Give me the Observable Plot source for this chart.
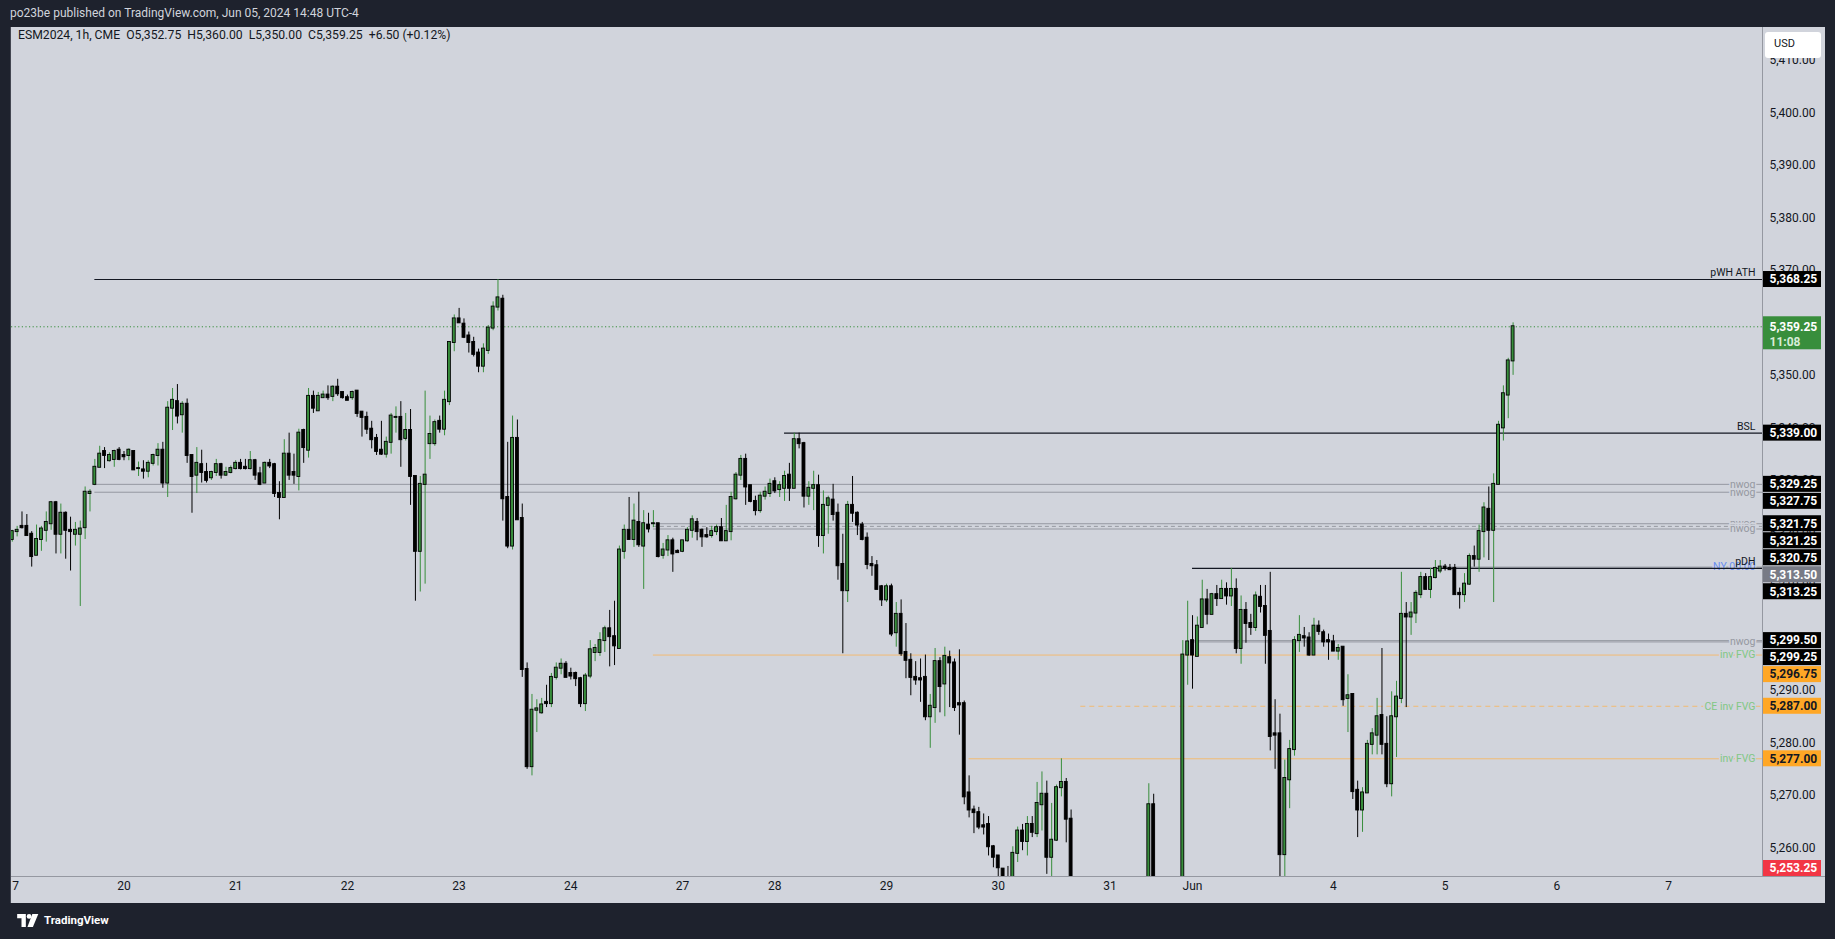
<!DOCTYPE html>
<html>
<head>
<meta charset="utf-8">
<script src="https://cdn.jsdelivr.net/npm/d3@7"></script>
<script src="https://cdn.jsdelivr.net/npm/@observablehq/plot@0.6"></script>
<style>
  html, body { margin: 0; padding: 0; background: #1e222d; }
  #page { position: relative; width: 1835px; height: 939px; background: #1e222d; overflow: hidden;
          font-family: Roboto, "Liberation Sans", sans-serif; }
  #title { position: absolute; left: 10px; top: 6px; color: #d1d4dc; font-size: 12px; white-space: pre; }
  #chart { position: absolute; left: 11px; top: 27px; width: 1814px; height: 876px; background: #d1d4dc; overflow: hidden; }
  #legend { position: absolute; left: 18px; top: 28px; color: #131722; font-size: 12.2px; line-height: 14px; white-space: pre; }
  #usd { position: absolute; left: 1765px; top: 32px; width: 56px; height: 26px; background: #fff; border-radius: 3px;
         color: #131722; font-size: 11px; line-height: 24px; box-sizing: border-box; padding-left: 9px; }
  .vline { position: absolute; left: 1762px; top: 27px; width: 1px; height: 849px; background: #9598a1; }
  .hline { position: absolute; left: 11px; top: 876px; width: 1814px; height: 1px; background: #9598a1; }
  .edge { position: absolute; left: 10px; top: 27px; width: 1px; height: 876px; background: #434651; }
  #brand { position: absolute; left: 17px; top: 912px; height: 16px; display: flex; align-items: center; gap: 5px;
           color: #ffffff; font-weight: bold; font-size: 11.5px; }
</style>
</head>
<body>
<div id="page">
  <div id="title"></div>
  <div id="chart"></div>
  <div class="edge"></div>
  <div class="vline"></div>
  <div class="hline"></div>
  <div id="legend"></div>
  <div id="usd">USD</div>
  <div id="brand">
    <svg width="22" height="13" viewBox="0 0 20 12">
      <path d="M0 0 H8 V12 H4 V4 H0 Z" fill="#fff"/>
      <circle cx="11" cy="2.2" r="2.2" fill="#fff"/>
      <path d="M14 0 H19.5 L14.5 12 H9.5 Z" fill="#fff"/>
    </svg>
    <span>TradingView</span>
  </div>
</div>
<script>
// ---------------- data ----------------
const author = "po23be";
const publishedText = "Jun 05, 2024 14:48 UTC-4";
const symbol = "ESM2024", interval = "1h", exchange = "CME";
const countdown = "11:08";

// hourly bars; first bar = May 17 00:00 (bar index -23, May 20 00:00 = 0)
const firstBar = -23;
const barOpen = [
5318.75,5320.25,5321.25,5321.25,5319.75,5315.75,5318.75,5320.50,5321.75,5325.75,5319.75,5323.75,5320.50,5319.75,5319.75,5321.00,5327.50,
5329.25,5332.50,5335.50,5333.75,5334.00,5335.75,
5334.75,5334.75,5335.50,5332.25,5332.00,5331.75,5333.25,5334.75,5335.75,5329.50,5343.75,5345.00,5342.50,5344.50,5334.75,5331.00,5333.00,
5331.50,5330.50,5331.50,5333.00,5331.00,5331.50,
5332.25,5333.25,5332.50,5332.25,5333.75,5331.25,5329.50,5333.25,5333.00,5327.50,5326.75,5335.00,5331.50,5330.75,5339.50,5335.75,5346.00,
5343.25,5345.75,5346.25,5346.00,5347.75,5346.75,
5345.75,5345.75,5347.00,5343.00,5342.00,5339.75,5338.00,5335.75,5335.00,5337.25,5342.00,5342.00,5338.00,5339.50,5330.75,5316.50,5329.25,
5337.00,5337.00,5341.25,5339.75,5345.00,5356.25,
5360.75,5359.75,5357.50,5356.25,5354.25,5351.75,5354.75,5359.00,5363.00,5364.50,5326.75,5317.50,5338.00,5322.75,5294.00,5275.50,5286.25,
5285.75,5287.75,5287.50,5292.50,5294.25,5295.00,
5293.25,5293.25,5292.25,5287.50,5292.75,5297.25,5297.25,5299.50,5301.75,5300.25,5298.00,5316.50,5320.50,5318.75,5322.00,5317.50,5321.50,
5321.75,5321.75,5315.75,5316.75,5318.50,5316.50,
5316.50,5318.50,5320.50,5322.00,5320.50,5319.50,5319.50,5320.25,5321.00,5318.50,5320.25,5326.50,5331.00,5334.00,5329.00,5326.00,5324.25,
5327.00,5327.50,
5329.75,5328.25,5328.50,5331.00,5328.50,5337.75,5337.00,5327.00,5328.50,5329.00,5319.50,5325.25,5326.25,5323.75,5314.00,5309.00,5325.25,
5323.75,5321.50,5319.00,5314.00,5313.75,5309.75,
5307.25,5309.75,5301.00,5304.50,5297.25,5295.75,5292.50,5292.25,5292.50,5285.00,5286.75,5295.50,5291.25,5296.25,5295.25,5287.50,5287.50,
5270.50,5267.25,5266.75,5264.25,5264.50,5260.25,
5258.50,5256.00,5251.00,5249.50,5259.00,5263.25,5261.25,5264.50,5262.75,5268.25,5270.25,5258.25,5261.50,5271.50,5272.50,5265.50,5242.50,
5238.25,5241.00,5244.25,5242.00,5237.50,5240.75,
5245.25,5243.00,5238.00,5232.25,5234.50,5230.25,5222.75,5233.50,5246.00,5268.25,5243.25,5235.50,5219.25,5211.75,5218.50,5238.00,5296.75,
5299.50,5296.50,5302.00,5307.25,5304.50,5308.25,
5307.50,5309.25,5308.00,5309.25,5298.00,5305.25,5302.75,5302.00,5307.75,5306.00,5301.25,5281.75,5281.75,5258.75,5273.00,5278.75,5299.50,
5300.25,5300.00,5296.75,5302.25,5301.00,5299.50,
5299.25,5297.50,5298.25,5288.50,5289.25,5271.00,5267.25,5270.50,5279.75,5281.50,5285.25,5279.75,5272.25,5285.00,5288.50,5304.50,5304.00,
5304.75,5308.25,5311.50,5309.25,5311.50,5312.75,
5313.50,5313.25,5313.25,5308.50,5308.25,5310.25,5315.50,5315.00,5320.25,5324.50,5320.50,5329.25,5340.00,5346.25,5352.75
];
const barHigh = [
5320.50,5321.25,5324.00,5323.50,5320.25,5321.50,5321.25,5324.00,5326.00,5326.00,5325.50,5324.00,5323.00,5322.00,5322.25,5328.75,5328.25,
5334.00,5336.50,5336.25,5335.25,5335.75,5336.25,
5335.50,5336.00,5335.50,5333.50,5333.75,5333.75,5335.00,5337.00,5337.25,5345.00,5347.50,5348.25,5345.00,5345.50,5334.75,5336.25,5335.75,
5333.25,5331.75,5334.00,5333.25,5332.50,5332.75,
5333.75,5334.00,5334.00,5335.50,5334.00,5332.50,5333.50,5334.00,5333.25,5329.75,5337.75,5339.00,5335.00,5339.75,5339.75,5347.50,5347.00,
5346.75,5347.00,5348.00,5348.00,5349.25,5346.75,
5346.25,5347.00,5347.00,5343.00,5343.00,5341.25,5338.75,5341.25,5338.25,5342.75,5344.00,5345.00,5342.75,5343.50,5330.75,5330.75,5347.00,
5342.25,5341.50,5342.25,5347.00,5356.25,5361.50,
5362.75,5360.75,5358.25,5357.25,5355.00,5356.00,5359.50,5364.00,5368.25,5365.25,5337.25,5342.25,5341.50,5325.50,5295.25,5289.25,5288.25,
5288.50,5291.00,5293.25,5295.25,5296.00,5295.50,
5294.25,5293.50,5292.50,5293.25,5299.50,5298.75,5301.00,5302.25,5305.25,5307.00,5317.50,5321.50,5326.75,5325.50,5327.75,5324.25,5323.75,
5324.25,5321.75,5318.00,5319.50,5319.00,5316.75,
5318.50,5321.00,5323.25,5322.75,5320.75,5321.00,5321.25,5321.50,5322.75,5325.25,5327.75,5331.50,5334.75,5335.00,5329.00,5327.00,5327.75,
5328.75,5330.25,
5330.50,5329.75,5331.75,5333.25,5339.00,5339.00,5337.25,5329.75,5331.75,5331.00,5328.00,5327.00,5329.25,5325.50,5319.75,5326.00,5330.75,
5324.00,5322.00,5320.00,5315.50,5314.75,5310.00,
5310.25,5310.25,5306.75,5307.25,5302.75,5297.00,5295.50,5296.00,5296.75,5289.25,5298.00,5296.25,5298.25,5297.50,5296.00,5297.75,5288.00,
5273.75,5268.00,5267.75,5266.50,5266.00,5260.50,
5258.50,5256.00,5256.50,5260.25,5264.00,5264.50,5266.00,5266.00,5272.50,5274.50,5272.75,5268.50,5272.00,5277.00,5273.25,5267.25,5246.00,
5243.50,5245.75,5248.00,5244.50,5242.25,5246.50,
5249.75,5245.00,5240.50,5236.00,5238.75,5233.50,5236.00,5248.25,5272.25,5270.25,5249.50,5241.00,5226.50,5222.00,5240.75,5299.50,5307.00,
5304.25,5304.00,5311.00,5309.25,5308.50,5310.00,
5311.00,5310.50,5313.25,5311.25,5308.00,5306.75,5304.50,5308.75,5310.00,5310.00,5312.50,5288.25,5285.50,5276.75,5280.50,5300.25,5304.25,
5302.00,5301.00,5303.75,5303.25,5301.50,5300.75,
5300.50,5298.75,5298.25,5293.00,5289.25,5272.75,5271.50,5280.50,5282.75,5288.50,5298.00,5285.00,5289.75,5291.75,5312.50,5306.75,5306.75,
5309.00,5312.50,5312.25,5313.25,5314.75,5314.75,
5314.00,5314.00,5314.00,5309.50,5312.25,5316.00,5317.50,5321.50,5325.75,5328.75,5331.25,5341.25,5348.00,5353.25,5360.00
];
const barLow = [
5318.25,5319.25,5320.75,5319.50,5313.50,5315.75,5316.50,5318.25,5320.50,5316.00,5316.00,5315.00,5312.75,5317.50,5306.00,5318.75,5324.00,
5329.00,5332.50,5332.25,5333.50,5332.50,5333.75,
5333.75,5333.75,5332.00,5330.75,5330.25,5330.50,5332.75,5332.75,5328.50,5326.75,5339.50,5340.75,5339.00,5333.25,5323.75,5327.50,5329.50,
5329.50,5330.00,5330.75,5330.25,5330.75,5331.25,
5332.00,5332.00,5332.00,5332.00,5330.00,5329.00,5329.50,5332.25,5326.75,5322.50,5326.75,5330.00,5329.25,5328.00,5333.25,5334.25,5342.75,
5343.25,5345.75,5345.25,5345.00,5346.00,5345.50,
5345.25,5345.25,5342.00,5338.25,5338.75,5336.00,5334.75,5334.75,5334.25,5335.00,5339.00,5332.50,5337.50,5325.25,5307.00,5308.75,5310.25,
5334.00,5336.50,5339.00,5338.50,5344.25,5354.50,
5360.00,5357.00,5354.25,5353.50,5350.50,5350.50,5354.00,5358.50,5362.25,5322.25,5317.00,5316.75,5322.50,5292.50,5275.00,5273.75,5282.00,
5285.50,5286.75,5286.75,5292.00,5293.00,5292.50,
5292.00,5290.75,5286.75,5286.00,5292.25,5295.50,5296.50,5297.25,5294.50,5294.75,5298.00,5315.00,5318.75,5317.25,5317.25,5309.25,5320.00,
5321.00,5315.25,5315.00,5315.50,5312.50,5316.25,
5316.25,5318.25,5319.00,5318.50,5317.25,5319.00,5319.00,5319.50,5318.50,5318.50,5318.50,5326.25,5330.00,5325.25,5325.75,5323.25,5323.75,
5326.25,5326.75,
5327.50,5326.75,5326.00,5326.00,5328.50,5336.00,5324.75,5325.25,5324.25,5317.25,5316.00,5319.75,5322.25,5311.00,5297.00,5306.75,5322.00,
5319.50,5318.50,5313.00,5311.75,5309.25,5306.00,
5306.75,5300.25,5298.25,5296.50,5292.25,5289.00,5291.00,5287.75,5284.25,5279.00,5283.75,5285.75,5285.00,5286.75,5286.00,5281.50,5268.25,
5265.75,5262.75,5263.50,5262.50,5258.50,5256.25,
5254.50,5249.00,5248.00,5247.50,5257.25,5259.50,5258.50,5262.00,5262.00,5263.25,5255.00,5254.25,5261.25,5269.75,5261.00,5240.00,5236.00,
5234.00,5238.50,5240.25,5235.75,5233.00,5239.00,
5241.50,5236.25,5229.75,5226.50,5228.00,5218.00,5219.50,5231.00,5243.50,5240.00,5230.00,5213.00,5206.00,5195.25,5216.00,5236.25,5291.00,
5290.25,5296.50,5302.00,5302.50,5304.50,5306.00,
5307.50,5306.25,5306.00,5297.00,5295.00,5299.00,5300.50,5301.25,5304.75,5295.00,5278.50,5275.00,5252.00,5250.00,5267.50,5277.50,5297.25,
5298.25,5296.50,5296.75,5300.50,5298.25,5295.75,
5297.50,5295.75,5287.00,5282.00,5269.25,5262.00,5263.00,5270.50,5277.75,5277.75,5277.75,5271.50,5269.75,5277.25,5287.50,5286.75,5300.50,
5302.75,5307.50,5309.25,5307.50,5311.25,5312.25,
5312.75,5313.00,5308.25,5305.50,5306.75,5310.00,5313.50,5312.50,5315.25,5314.75,5306.75,5329.25,5337.50,5341.75,5350.00
];
const barClose = [
5320.25,5320.50,5321.00,5319.50,5315.50,5318.75,5320.75,5322.00,5325.75,5319.75,5323.75,5320.50,5320.25,5320.50,5320.75,5327.75,5327.75,
5332.50,5335.00,5334.75,5334.75,5335.50,5334.00,
5334.50,5335.75,5332.00,5332.25,5331.75,5333.25,5334.75,5335.75,5329.50,5343.75,5345.25,5342.25,5344.50,5334.75,5330.75,5333.25,5331.50,
5330.00,5331.50,5333.00,5331.00,5331.50,5332.25,
5333.25,5332.25,5332.25,5333.75,5331.00,5329.25,5333.25,5332.75,5327.50,5326.75,5335.00,5331.00,5331.00,5339.00,5336.25,5346.00,5343.75,
5346.00,5346.25,5345.75,5347.75,5346.50,5345.75,
5345.25,5346.75,5342.75,5342.00,5339.75,5337.75,5335.50,5335.00,5337.25,5342.25,5342.00,5337.75,5339.50,5330.75,5316.50,5329.25,5331.00,
5338.75,5341.00,5339.75,5345.25,5356.25,5360.75,
5360.00,5357.25,5356.25,5354.00,5351.75,5355.00,5359.00,5363.00,5364.75,5326.50,5317.50,5338.00,5322.50,5294.00,5275.50,5286.25,5286.50,
5287.25,5287.50,5292.50,5294.25,5295.00,5292.50,
5292.75,5292.25,5287.50,5292.75,5297.75,5298.00,5299.50,5301.75,5300.25,5298.50,5316.75,5320.50,5318.75,5322.25,5317.75,5321.75,5320.75,
5321.75,5315.50,5316.75,5318.50,5316.00,5316.25,
5318.50,5320.50,5322.50,5320.25,5319.25,5319.25,5320.25,5321.00,5318.50,5320.25,5326.75,5331.00,5334.00,5328.75,5326.00,5324.25,5327.00,
5327.75,5329.25,
5328.00,5329.00,5330.75,5328.50,5337.75,5337.00,5327.00,5328.50,5329.00,5319.50,5325.25,5326.50,5323.50,5313.75,5309.00,5325.25,5323.75,
5321.50,5318.75,5314.00,5313.75,5309.25,5307.25,
5309.75,5300.75,5304.50,5297.00,5295.75,5292.50,5292.00,5292.00,5285.00,5287.00,5295.50,5290.75,5296.50,5295.25,5286.75,5287.25,5269.75,
5267.25,5266.75,5264.00,5264.00,5260.25,5258.25,
5256.25,5251.00,5249.50,5259.00,5263.25,5261.25,5264.50,5263.00,5268.50,5270.25,5258.25,5261.50,5271.50,5272.50,5265.50,5242.50,5238.25,
5241.00,5244.25,5242.00,5237.50,5240.75,5245.25,
5243.00,5238.00,5232.25,5234.50,5230.25,5222.75,5233.50,5246.00,5268.25,5243.25,5235.50,5219.25,5211.75,5218.50,5238.00,5296.75,5299.25,
5296.75,5302.25,5307.25,5304.50,5308.25,5307.50,
5309.25,5308.00,5309.25,5298.00,5305.25,5302.75,5302.00,5308.00,5306.00,5300.50,5281.25,5281.50,5258.75,5273.25,5278.75,5299.50,5300.50,
5300.00,5296.75,5302.25,5301.25,5299.25,5299.25,
5297.50,5298.00,5288.25,5289.00,5270.75,5267.25,5270.50,5279.75,5281.75,5285.00,5279.75,5272.25,5285.00,5288.75,5304.50,5304.00,5304.75,
5308.50,5311.50,5309.25,5311.50,5313.25,5313.50,
5313.25,5313.00,5308.25,5308.25,5310.25,5315.50,5315.00,5320.25,5324.75,5320.50,5329.25,5340.50,5346.50,5352.75,5359.25
];

// day labels on the time axis (bar index where each label sits)
const dayTickBar   = [-23, 0, 23, 46, 69, 92, 115, 134, 157, 180, 203, 220, 249, 272, 295, 318];
const dayTickLabel = ["17","20","21","22","23","24","27","28","29","30","31","Jun","4","5","6","7"];

// price axis ticks
const priceTicks = [5260,5270,5280,5290,5300,5310,5320,5330,5340,5350,5360,5370,5380,5390,5400,5410];

// drawn levels
const levelPrice = [5368.25, 5339.00, 5329.25, 5327.75, 5321.75, 5321.25, 5320.75, 5313.50, 5313.25, 5299.50, 5299.25, 5296.75, 5287.00, 5277.00, 5253.25];
const levelLabel = ["pWH ATH","BSL","nwog","nwog","nwog","nwog","nwog","NY 00:00","pDH","nwog","nwog","inv FVG","CE inv FVG","inv FVG",""];
const levelKind  = ["key","key","nwog","nwog","nwog","nwogCE","nwog","ny","key","nwog","nwog","fvg","fvgCE","fvg","low"];
const levelStartBar = [-6, 136, -6, -6, 109, 109, 109, 272, 220, 220, 220, 109, 197, 174, null];

// ---------------- layout / style ----------------
const W = 1814, H = 876, MR = 63, MB = 27;
const xDomain = [-23.16, 337.35];
const yDomain = [5254.59, 5416.23];
const UP = "#388e3c", DOWN = "#000000", INK = "#131722", BG = "#d1d4dc";
const FONT = "Roboto, 'Liberation Sans', sans-serif";

const kindStyle = {
  key:    {stroke: INK, width: 1.2, dash: null, text: INK, above: true, box: "#000000", boxText: "#ffffff"},
  nwog:   {stroke: "#9598a1", width: 1, dash: null, text: "#9598a1", above: false, box: "#000000", boxText: "#ffffff"},
  nwogCE: {stroke: "#9598a1", width: 1, dash: "4,3", text: "#9598a1", above: false, box: "#000000", boxText: "#ffffff"},
  ny:     {stroke: "#9598a1", width: 1, dash: null, text: "#6a8ff0", above: false, box: "#787b86", boxText: "#ffffff"},
  fvg:    {stroke: "#f2bb73", width: 1, dash: null, text: "#81c784", above: false, box: "#ffa726", boxText: INK},
  fvgCE:  {stroke: "#f2bb73", width: 1, dash: "5,4", text: "#81c784", above: false, box: "#ffa726", boxText: INK},
  low:    {stroke: null, width: 0, dash: null, text: INK, above: false, box: "#f23645", boxText: "#ffffff"}
};

const fmt = d3.format(",.2f");
const bars = barOpen.map((o, k) => ({i: firstBar + k, o, h: barHigh[k], l: barLow[k], c: barClose[k]}));
const last = bars[bars.length - 1], prev = bars[bars.length - 2];
const chg = last.c - prev.c;

document.getElementById("title").textContent = `${author} published on TradingView.com, ${publishedText}`;
document.getElementById("legend").textContent =
  `${symbol}, ${interval}, ${exchange}  O${fmt(last.o)}  H${fmt(last.h)}  L${fmt(last.l)}  C${fmt(last.c)}  ${chg >= 0 ? "+" : ""}${chg.toFixed(2)} (${chg >= 0 ? "+" : ""}${(chg / prev.c * 100).toFixed(2)}%)`;

// scales (same as the plot's) for laying out the price-label boxes
const xs = Plot.scale({x: {domain: xDomain, range: [0, W - MR]}});
const ys = Plot.scale({y: {domain: yDomain, range: [H - MB, 0]}});
const boxX2 = xs.invert(W - MR + 59);

const levels = levelPrice.map((p, k) => ({p, label: levelLabel[k], kind: levelKind[k], start: levelStartBar[k]}));
const boxes = levels.slice().sort((a, b) => b.p - a.p);
let prevY = -Infinity;
for (const b of boxes) {
  let py = Math.max(ys.apply(b.p), prevY + 17);
  py = Math.min(py, H - MB - 8);
  prevY = py;
  b.yc = ys.invert(py); b.y1 = ys.invert(py - 8); b.y2 = ys.invert(py + 8);
  b.text = fmt(b.p);
}
const curPy = ys.apply(last.c);
const curBox = [{y1: ys.invert(curPy - 10), y2: ys.invert(curPy + 23), yc: last.c, yc2: ys.invert(curPy + 15.5)}];

const levelMarks = [];
for (const l of levels) {
  const s = kindStyle[l.kind];
  if (s.stroke && l.start != null) {
    levelMarks.push(Plot.ruleY([l.p], {x1: l.start, x2: xDomain[1], stroke: s.stroke, strokeWidth: s.width,
      strokeDasharray: s.dash || undefined}));
  }
  if (l.label) {
    levelMarks.push(Plot.text([l.p], {y: d => d, frameAnchor: "right", dx: -7, dy: s.above ? -7 : 0,
      textAnchor: "end", text: () => l.label, fill: s.text, fontSize: 10.5,
      stroke: s.above ? undefined : BG, strokeWidth: s.above ? undefined : 3, paintOrder: "stroke"}));
  }
}

const chart = Plot.plot({
  width: W, height: H,
  marginLeft: 0, marginRight: MR, marginTop: 0, marginBottom: MB,
  style: {background: BG, fontFamily: FONT, color: INK, overflow: "visible"},
  x: {domain: xDomain, axis: null},
  y: {domain: yDomain, axis: null},
  marks: [
    // price axis tick labels
    Plot.text(priceTicks, {y: d => d, frameAnchor: "right", dx: 7, textAnchor: "start", text: d => fmt(d), fontSize: 12, fill: INK}),
    // time axis labels
    Plot.text(dayTickBar, {x: d => d, frameAnchor: "bottom", dy: 13.5, text: (d, i) => dayTickLabel[i], fontSize: 12, fill: INK}),
    // levels
    ...levelMarks,
    // current price dotted line
    Plot.ruleY([last.c], {stroke: UP, strokeDasharray: "1.2,2.4", strokeWidth: 1}),
    // candles
    Plot.ruleX(bars, {x: "i", y1: "l", y2: "h", stroke: d => d.c >= d.o ? UP : DOWN, strokeWidth: 1, clip: true}),
    Plot.rect(bars, {x1: d => d.i - 0.3, x2: d => d.i + 0.3, y1: "o", y2: "c",
      fill: d => d.c >= d.o ? UP : DOWN, stroke: "#000", strokeWidth: 0.9, insetTop: -0.5, insetBottom: -0.5, clip: true}),
    // price label boxes
    Plot.rect(boxes, {x1: xDomain[1], x2: boxX2, y1: "y1", y2: "y2", fill: d => kindStyle[d.kind].box}),
    Plot.text(boxes, {x: xDomain[1], dx: 7, y: "yc", text: "text", textAnchor: "start", fontSize: 12, fontWeight: "bold",
      fill: d => kindStyle[d.kind].boxText}),
    Plot.rect(curBox, {x1: xDomain[1], x2: boxX2, y1: "y1", y2: "y2", fill: UP}),
    Plot.text(curBox, {x: xDomain[1], dx: 7, y: "yc", text: () => fmt(last.c), textAnchor: "start", fontSize: 12, fontWeight: "bold", fill: "#fff"}),
    Plot.text(curBox, {x: xDomain[1], dx: 7, y: "yc2", text: () => countdown, textAnchor: "start", fontSize: 12, fontWeight: "bold", fill: "#d7ecd8"})
  ]
});
document.getElementById("chart").appendChild(chart);
</script>
</body>
</html>
